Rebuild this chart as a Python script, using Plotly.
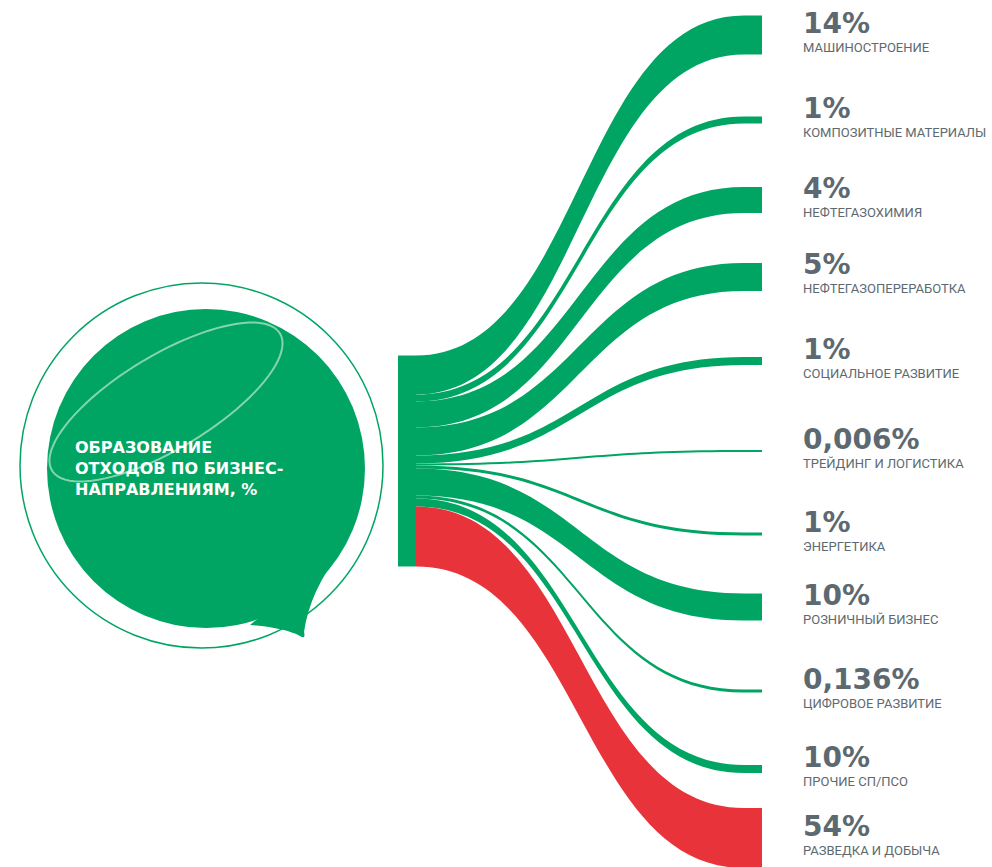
import numpy as np
import plotly.graph_objects as go

# --- data ---
title_text = "ОБРАЗОВАНИЕ<br>ОТХОДОВ ПО БИЗНЕС-<br>НАПРАВЛЕНИЯМ, %"
categories = ["МАШИНОСТРОЕНИЕ", "КОМПОЗИТНЫЕ МАТЕРИАЛЫ", "НЕФТЕГАЗОХИМИЯ",
              "НЕФТЕГАЗОПЕРЕРАБОТКА", "СОЦИАЛЬНОЕ РАЗВИТИЕ", "ТРЕЙДИНГ И ЛОГИСТИКА",
              "ЭНЕРГЕТИКА", "РОЗНИЧНЫЙ БИЗНЕС", "ЦИФРОВОЕ РАЗВИТИЕ", "ПРОЧИЕ СП/ПСО",
              "РАЗВЕДКА И ДОБЫЧА"]
share_labels = ["14%", "1%", "4%", "5%", "1%", "0,006%", "1%", "10%", "0,136%", "10%", "54%"]
# band thickness as drawn in the original (not proportional to the shares)
band_weights = [39, 7, 26, 28, 8, 2, 3, 27, 3, 8, 60]

W, H = 992, 867
GREEN = "#00a563"
RED = "#e8333a"
GREY = "#5d6970"

# layout: vertical centres of the right-hand rows, in px from the top
row_y = [35, 120, 200, 277, 361, 451, 534, 607, 691, 769, 838]


def px(x):
    return x / W


def py(y):
    return 1 - y / H


n = len(categories)
colors = [GREEN] * (n - 1) + [RED]

# plotly keeps nodes at >= 1/3 of the domain height, so size the domain
# to get about one pixel per weight unit and place nodes relative to it
dom_h = 3 * sum(band_weights)
dom_top = 461 - dom_h / 2


def dy(y):
    return (y - dom_top) / dom_h


fig = go.Figure(go.Sankey(
    arrangement="fixed",
    domain=dict(x=[0, 1], y=[py(dom_top + dom_h), py(dom_top)]),
    node=dict(
        label=[""] * (n + 1),
        x=[407 / W] + [753 / W] * n,
        y=[dy(461)] + [dy(y) for y in row_y],
        thickness=18,
        pad=200,
        color=[GREEN] + colors,
        line=dict(width=0),
        hoverinfo="skip",
    ),
    link=dict(
        source=[0] * n,
        target=list(range(1, n + 1)),
        value=band_weights,
        color=colors,
        hoverinfo="skip",
    ),
))

shapes = []
# outer thin outline
shapes.append(dict(type="circle", xref="paper", yref="paper",
                   x0=px(20), x1=px(383), y0=py(648), y1=py(283),
                   line=dict(color=GREEN, width=1.5), fillcolor="rgba(0,0,0,0)"))
# filled bubble
shapes.append(dict(type="circle", xref="paper", yref="paper",
                   x0=px(47), x1=px(365), y0=py(628), y1=py(309),
                   line=dict(width=0), fillcolor=GREEN))
tail = (f"M {px(342)},{py(550)} Q {px(310)},{py(590)} {px(304)},{py(632)} "
        f"Q {px(306)},{py(640)} {px(300)},{py(636)} "
        f"Q {px(285)},{py(628)} {px(250)},{py(625)} Z")
shapes.append(dict(type="path", xref="paper", yref="paper", path=tail,
                   line=dict(width=0), fillcolor=GREEN))
# light rotated ellipse
t = np.linspace(0, 2 * np.pi, 90)
a, b, ang = 133, 47, np.deg2rad(-31)
cx, cy = 166, 402
ex = cx + a * np.cos(t) * np.cos(ang) - b * np.sin(t) * np.sin(ang)
ey = cy + a * np.cos(t) * np.sin(ang) + b * np.sin(t) * np.cos(ang)
path = "M " + " L ".join(f"{px(x)},{py(y)}" for x, y in zip(ex, ey)) + " Z"
shapes.append(dict(type="path", xref="paper", yref="paper", path=path,
                   line=dict(color="rgba(190,232,205,0.7)", width=2)))

annotations = [dict(
    text=title_text, x=px(73), y=py(468), xref="paper", yref="paper",
    xanchor="left", yanchor="middle", align="left", showarrow=False,
    font=dict(family="DejaVu Sans", size=16, color="white", weight="bold"),
)]
for i in range(n):
    annotations.append(dict(
        text=share_labels[i], x=px(801), y=py(row_y[i] - 12), xref="paper", yref="paper",
        xanchor="left", yanchor="middle", showarrow=False,
        font=dict(family="DejaVu Sans", size=28, color=GREY, weight="bold"),
    ))
    annotations.append(dict(
        text=categories[i], x=px(801), y=py(row_y[i] + 12), xref="paper", yref="paper",
        xanchor="left", yanchor="middle", showarrow=False,
        font=dict(family="Roboto", size=13, color=GREY),
    ))

fig.update_layout(
    width=W, height=H,
    margin=dict(l=0, r=0, t=0, b=0),
    paper_bgcolor="white",
    plot_bgcolor="white",
    shapes=shapes,
    annotations=annotations,
)

fig.write_html("out.html", config={"displayModeBar": False},
               post_script="document.body.style.margin = '0';")
